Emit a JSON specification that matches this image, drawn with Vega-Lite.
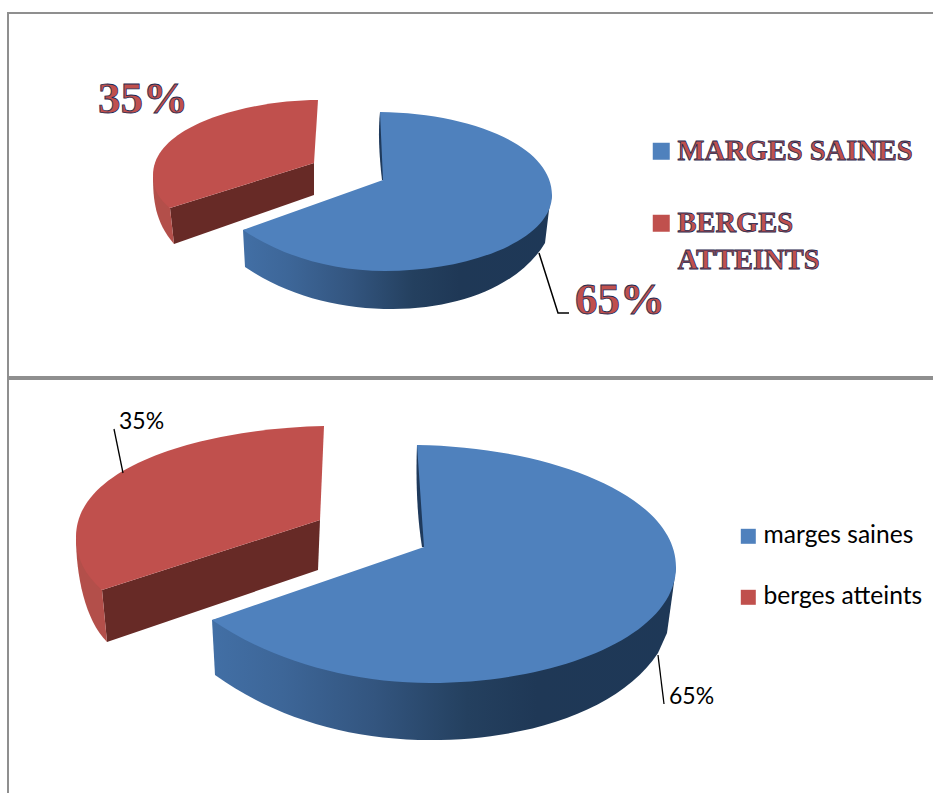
{
"$schema":"https://vega.github.io/schema/vega-lite/v6.json",
"background":"white",
"padding":{"left":7,"top":12,"right":0,"bottom":0},
"spacing":0,
"resolve":{"scale":{"color":"independent"},"legend":{"color":"independent"}},
"config":{"concat":{"spacing":0}},
"vconcat":[
{"width":930,"height":364,
 "view":{"stroke":"#8f8f8f","strokeWidth":2},
 "data":{"values":[{"slice":"MARGES SAINES","value":65,"label":"65%"},{"slice":"BERGES ATTEINTS","value":35,"label":"35%"}]},
 "layer":[
  {"transform":[{"filter":"datum.value==65"}],"mark":{"type":"point","size":4,"filled":true,"opacity":1,"shape":"M-93,-83C-95,-65,-94,-40,-91,-15L-85,-15L-85,-80Z","fill":"#1f3a5c"},"encoding":{}},
  {"transform":[{"filter":"datum.value==65"}],"mark":{"type":"point","size":4,"filled":true,"opacity":1,"shape":"M-230,35L-228,72C-183,102,-133,114,-80,114C-13,114,47,90,72,48L76,15L79,0L-90,0Z","fill":{"x1":0,"y1":0,"x2":1,"y2":0,"gradient":"linear","stops":[{"offset":0,"color":"#426fa5"},{"offset":0.15,"color":"#3d6698"},{"offset":0.35,"color":"#33557f"},{"offset":0.55,"color":"#24405f"},{"offset":0.7,"color":"#1f3856"},{"offset":1,"color":"#1e3857"}]}},"encoding":{}},
  {"transform":[{"filter":"datum.value==35"}],"mark":{"type":"point","size":4,"filled":true,"opacity":1,"shape":"M-303,13L-159,-32L-159,0L-299,49Z","fill":"#672a26"},"encoding":{}},
  {"transform":[{"filter":"datum.value==35"}],"mark":{"type":"point","size":4,"filled":true,"opacity":1,"shape":"M-320,-20C-320,5,-318,27,-299,49L-303,13Z","fill":"#b34f4a"},"encoding":{}},
  {"transform":[{"filter":"datum.value==65"}],"mark":{"type":"point","size":4,"filled":true,"opacity":1,"shape":"M-93,-83C-3,-82,79,-50,79,0C79,45,-3,76,-88,76C-143,76,-193,60,-230,35L-90,-15Z"},
   "encoding":{
    "color":{"field":"slice","type":"nominal","sort":null,"scale":{"domain":["MARGES SAINES","BERGES ATTEINTS"],"range":["#4f81bd","#c0504d"]},
     "legend":{"title":null,"orient":"none","legendX":639,"legendY":124,"symbolType":"square","symbolSize":289,"symbolOpacity":1,"symbolStrokeWidth":0,"labelFont":"Liberation Serif","labelFontWeight":"bold","labelFontSize":28.5,"labelColor":"#c0504d","labelOffset":2,"labelLimit":300,"rowPadding":43,"labelExpr":"datum.label=='BERGES ATTEINTS'?['BERGES','ATTEINTS']:datum.label","encode":{"symbols":{"update":{"shape":{"value":"square"}}},"labels":{"update":{"stroke":{"value":"#1f2a50"},"strokeWidth":{"value":0.8},"lineHeight":{"value":37}}}}}}
   }},
  {"transform":[{"filter":"datum.value==35"}],"mark":{"type":"point","size":4,"filled":true,"opacity":1,"shape":"M-155,-95C-223,-95,-320,-70,-320,-20C-320,-5,-313,5,-303,13L-159,-32Z"},
   "encoding":{"color":{"field":"slice","type":"nominal","sort":null}}},
  {"transform":[{"filter":"datum.value==65"}],"mark":{"type":"point","size":4,"filled":false,"opacity":1,"shape":"M66,58L85,118L96,118","stroke":"#000000","strokeWidth":1.5},"encoding":{}},
  {"transform":[{"filter":"datum.value==65"}],"mark":{"type":"text","dx":102,"dy":119,"align":"left","baseline":"alphabetic","font":"Liberation Serif","fontWeight":"bold","fontSize":45,"fill":"#c0504d","stroke":"#1f2a50","strokeWidth":0.8},"encoding":{"text":{"field":"label"}}},
  {"transform":[{"filter":"datum.value==35"}],"mark":{"type":"text","dx":-375,"dy":-82,"align":"left","baseline":"alphabetic","font":"Liberation Serif","fontWeight":"bold","fontSize":45,"fill":"#c0504d","stroke":"#1f2a50","strokeWidth":0.8},"encoding":{"text":{"field":"label"}}}
 ]},
{"width":930,"height":436,
 "view":{"stroke":"#8f8f8f","strokeWidth":2},
 "data":{"values":[{"slice":"marges saines","value":65,"label":"65%"},{"slice":"berges atteints","value":35,"label":"35%"}]},
 "layer":[
  {"transform":[{"filter":"datum.value==65"}],"mark":{"type":"point","size":4,"filled":true,"opacity":1,"shape":"M-56,-152C-57,-127,-57,-87,-51,-50L-45,-50L-45,-150Z","fill":"#1f3a5c"},"encoding":{}},
  {"transform":[{"filter":"datum.value==65"}],"mark":{"type":"point","size":4,"filled":true,"opacity":1,"shape":"M-261,23L-258,78C-198,121,-123,143,-43,143C57,143,147,113,185,56L194,36L200,-7L203,-30L-49,-30Z","fill":{"x1":0,"y1":0,"x2":1,"y2":0,"gradient":"linear","stops":[{"offset":0,"color":"#426fa5"},{"offset":0.15,"color":"#3d6698"},{"offset":0.35,"color":"#33557f"},{"offset":0.55,"color":"#24405f"},{"offset":0.7,"color":"#1f3856"},{"offset":1,"color":"#1e3857"}]}},"encoding":{}},
  {"transform":[{"filter":"datum.value==35"}],"mark":{"type":"point","size":4,"filled":true,"opacity":1,"shape":"M-371,-7L-153,-77L-155,-27L-366,45Z","fill":"#672a26"},"encoding":{}},
  {"transform":[{"filter":"datum.value==35"}],"mark":{"type":"point","size":4,"filled":true,"opacity":1,"shape":"M-397,-60C-397,-22,-388,23,-366,45L-371,-7Z","fill":"#b34f4a"},"encoding":{}},
  {"transform":[{"filter":"datum.value==65"}],"mark":{"type":"point","size":4,"filled":true,"opacity":1,"shape":"M-56,-152C77,-150,203,-102,203,-30C203,38,87,86,-43,86C-123,86,-203,63,-261,23L-49,-50Z"},
   "encoding":{
    "color":{"field":"slice","type":"nominal","sort":null,"scale":{"domain":["marges saines","berges atteints"],"range":["#4f81bd","#c0504d"]},
     "legend":{"title":null,"orient":"none","legendX":728,"legendY":145,"symbolType":"square","symbolSize":225,"symbolOpacity":1,"symbolStrokeWidth":0,"labelFont":"Lato","labelFontSize":24.6,"labelColor":"#000000","labelOffset":3,"labelLimit":300,"rowPadding":36,"encode":{"symbols":{"update":{"shape":{"value":"square"}}}}}}
   }},
  {"transform":[{"filter":"datum.value==35"}],"mark":{"type":"point","size":4,"filled":true,"opacity":1,"shape":"M-149,-171C-253,-169,-397,-137,-397,-60C-397,-39,-388,-22,-371,-7L-153,-77Z"},
   "encoding":{"color":{"field":"slice","type":"nominal","sort":null}}},
  {"transform":[{"filter":"datum.value==65"}],"mark":{"type":"point","size":4,"filled":false,"opacity":1,"shape":"M185,58L191,107","stroke":"#000000","strokeWidth":1.3},"encoding":{}},
  {"transform":[{"filter":"datum.value==35"}],"mark":{"type":"point","size":4,"filled":false,"opacity":1,"shape":"M-359,-168L-350,-124","stroke":"#000000","strokeWidth":1.3},"encoding":{}},
  {"transform":[{"filter":"datum.value==65"}],"mark":{"type":"text","dx":196,"dy":107,"align":"left","baseline":"alphabetic","font":"Lato","fontSize":23,"fill":"#000000"},"encoding":{"text":{"field":"label"}}},
  {"transform":[{"filter":"datum.value==35"}],"mark":{"type":"text","dx":-354,"dy":-168,"align":"left","baseline":"alphabetic","font":"Lato","fontSize":23,"fill":"#000000"},"encoding":{"text":{"field":"label"}}}
 ]}
]}
